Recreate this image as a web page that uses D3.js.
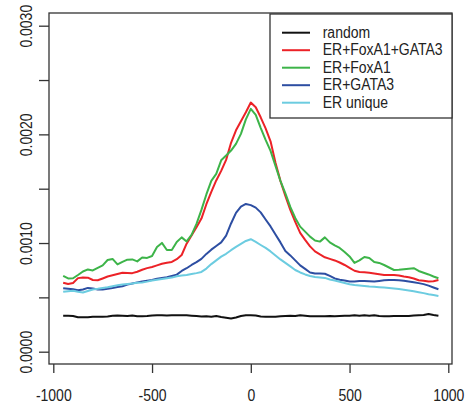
<!DOCTYPE html>
<html>
<head>
<meta charset="utf-8">
<script src="https://cdn.jsdelivr.net/npm/d3@7"></script>
<style>
  body { margin: 0; background: #fff; }
  svg { display: block; }
  text { font-family: "Liberation Sans", Arial, sans-serif; font-size: 14px; fill: #222; }
</style>
</head>
<body>
<div id="chart"></div>
<script>
// distance from peak centre (bp)
const positions = [-950, -925, -900, -875, -850, -825, -800, -775, -750, -725, -700, -675, -650, -625, -600,
  -575, -550, -525, -500, -475, -450, -425, -400, -375, -350, -325, -300, -275, -250, -225, -200,
  -175, -150, -125, -100, -75, -50, -25, 0, 25, 50, 75, 100, 125, 150, 175, 200, 225, 250, 275, 300,
  325, 350, 375, 400, 425, 450, 475, 500, 525, 550, 575, 600, 625, 650, 675, 700, 725, 750, 775, 800,
  825, 850, 875, 900, 925, 950];

// series values, in units of 1e-4
const randomVals = [3.31, 3.31, 3.28, 3.17, 3.17, 3.17, 3.22, 3.22, 3.22, 3.24, 3.30, 3.33, 3.31, 3.28, 3.33,
  3.26, 3.26, 3.28, 3.33, 3.35, 3.35, 3.33, 3.35, 3.35, 3.35, 3.35, 3.31, 3.28, 3.24, 3.26, 3.22,
  3.28, 3.19, 3.13, 3.06, 3.15, 3.28, 3.35, 3.35, 3.33, 3.24, 3.22, 3.22, 3.22, 3.26, 3.28, 3.31, 3.28, 3.35, 3.31, 3.26,
  3.26, 3.26, 3.26, 3.28, 3.26, 3.28, 3.31, 3.31, 3.35, 3.31, 3.35, 3.31, 3.35, 3.28, 3.26, 3.26, 3.28, 3.28, 3.28, 3.28,
  3.33, 3.35, 3.38, 3.47, 3.38, 3.31];

const erFoxGata = [6.35, 6.23, 6.33, 6.77, 6.83, 6.81, 6.60, 6.57, 6.74, 6.92, 7.03, 7.15, 7.26, 7.25, 7.23,
  7.36, 7.54, 7.69, 7.80, 7.94, 8.09, 8.19, 8.26, 8.51, 8.90, 9.94, 10.70, 11.45, 12.25, 13.57, 14.71,
  15.76, 16.64, 17.65, 19.22, 20.37, 21.20, 22.03, 22.93, 22.50, 21.57, 20.55, 19.36, 17.38, 15.72, 14.34, 13.05, 11.94, 10.93, 10.29, 9.69,
  9.23, 8.95, 8.69, 8.54, 8.40, 8.21, 7.98, 7.71, 7.45, 7.34, 7.31, 7.27, 7.20, 7.13, 7.06, 7.06, 7.06, 7.02, 6.92, 6.85,
  6.74, 6.58, 6.53, 6.46, 6.49, 6.60];

const erFox = [6.97, 6.74, 6.76, 7.06, 7.38, 7.57, 7.48, 7.71, 7.94, 8.44, 8.54, 8.03, 8.26, 8.47, 8.49,
  8.31, 8.67, 8.63, 8.81, 9.64, 10.01, 9.36, 9.36, 10.10, 10.52, 10.15, 10.75, 11.76, 13.05, 14.47, 15.72,
  16.36, 17.61, 18.05, 18.51, 19.13, 20.05, 21.38, 22.35, 21.80, 20.60, 19.49, 18.48, 17.10, 15.72, 14.57, 13.32, 12.31, 11.51, 11.05, 10.59,
  10.24, 10.13, 10.52, 10.06, 9.78, 9.55, 9.18, 8.77, 8.17, 8.40, 8.72, 8.63, 8.26, 8.17, 7.98, 7.75, 7.52, 7.54, 7.59, 7.63,
  7.68, 7.43, 7.27, 7.11, 6.92, 6.76];

const erGata = [5.84, 5.79, 5.75, 5.65, 5.73, 5.87, 5.82, 5.73, 5.73, 5.80, 5.87, 5.96, 6.02, 6.17, 6.28,
  6.38, 6.46, 6.54, 6.60, 6.71, 6.79, 6.86, 6.97, 7.09, 7.43, 7.68, 7.98, 8.24, 8.54, 9.00, 9.39,
  9.73, 10.06, 10.68, 11.80, 12.77, 13.35, 13.60, 13.49, 13.26, 12.82, 12.17, 11.53, 10.79, 10.06, 9.27, 8.86, 8.40, 7.94, 7.62, 7.29,
  7.20, 7.20, 7.17, 6.97, 6.74, 6.63, 6.56, 6.46, 6.46, 6.51, 6.51, 6.49, 6.46, 6.51, 6.57, 6.60, 6.60, 6.57, 6.53, 6.46,
  6.40, 6.31, 6.22, 6.08, 5.91, 5.75];

const erUnique = [5.52, 5.57, 5.61, 5.52, 5.45, 5.59, 5.73, 5.79, 5.87, 5.94, 6.03, 6.11, 6.18, 6.23, 6.27,
  6.34, 6.37, 6.45, 6.56, 6.63, 6.69, 6.76, 6.82, 6.95, 7.02, 7.06, 7.15, 7.23, 7.34, 7.65, 8.06,
  8.40, 8.75, 9.01, 9.34, 9.64, 9.92, 10.19, 10.35, 10.10, 9.82, 9.55, 9.23, 8.86, 8.49, 8.17, 7.85, 7.52, 7.29, 7.11, 6.97,
  6.88, 6.83, 6.79, 6.65, 6.56, 6.44, 6.33, 6.21, 6.14, 6.10, 6.05, 6.00, 5.98, 5.94, 5.90, 5.86, 5.81, 5.76, 5.70, 5.64,
  5.56, 5.48, 5.39, 5.29, 5.21, 5.13];

const seriesNames = ["random", "ER+FoxA1+GATA3", "ER+FoxA1", "ER+GATA3", "ER unique"];
const seriesColors = ["#111111", "#ec2227", "#3db449", "#2d4ea2", "#6ccce0"];
const xTicks = [-1000, -500, 0, 500, 1000];
const yTicks = [0, 0.0005, 0.001, 0.0015, 0.002, 0.0025, 0.003];
const yLabelled = [0, 0.001, 0.002, 0.003];
const UNIT = 1e-4;

const allSeries = [randomVals, erFoxGata, erFox, erGata, erUnique];

const width = 469, height = 406;
const box = { left: 49, right: 452, top: 13, bottom: 364 };
const stretch = 1.17; // glyphs in the reference are taller than Arial

const svg = d3.select("#chart").append("svg")
  .attr("width", width)
  .attr("height", height);

const x = d3.scaleLinear().domain([-1000, 1000]).range([53.3, 448.3]);
const y = d3.scaleLinear().domain([0, 0.003]).range([351.7, 25.7]);

// lines
const line = d3.line()
  .x((d, i) => x(positions[i]))
  .y(d => y(d * UNIT));

svg.selectAll("path.series")
  .data(allSeries)
  .enter()
  .append("path")
    .attr("class", "series")
    .attr("d", d => line(d))
    .attr("fill", "none")
    .attr("stroke", (d, i) => seriesColors[i])
    .attr("stroke-width", 2)
    .attr("stroke-linejoin", "round");

// plot frame
svg.append("rect")
  .attr("x", box.left)
  .attr("y", box.top)
  .attr("width", box.right - box.left)
  .attr("height", box.bottom - box.top)
  .attr("fill", "none")
  .attr("stroke", "#333")
  .attr("stroke-width", 1.3);

// x axis
const xAxis = svg.append("g")
  .attr("transform", `translate(0,${box.bottom})`)
  .call(d3.axisBottom(x).tickValues(xTicks).tickSize(9).tickFormat(d => String(d)));
xAxis.select(".domain").remove();
xAxis.selectAll(".tick line").attr("stroke", "#333").attr("stroke-width", 1.3);
xAxis.selectAll(".tick text")
  .attr("font-size", null).attr("font-family", null).attr("fill", "#222")
  .attr("y", 0).attr("dy", 0)
  .attr("transform", `translate(0,37) scale(1,${stretch})`);

// y axis
const yAxis = svg.append("g")
  .attr("transform", `translate(${box.left},0)`)
  .call(d3.axisLeft(y).tickValues(yTicks).tickSize(10)
    .tickFormat(d => yLabelled.some(v => Math.abs(v - d) < 1e-9) ? d3.format(".4f")(d) : ""));
yAxis.select(".domain").remove();
yAxis.selectAll(".tick line").attr("stroke", "#333").attr("stroke-width", 1.3);
yAxis.selectAll(".tick text")
  .attr("font-size", null).attr("font-family", null).attr("fill", "#222")
  .attr("x", 0).attr("dy", 0)
  .attr("text-anchor", "middle")
  .attr("transform", `translate(-17.3,0) rotate(-90) scale(1,${stretch})`);

// legend
const legend = svg.append("g");
legend.append("rect")
  .attr("x", 270).attr("y", 14)
  .attr("width", box.right - 270).attr("height", 104)
  .attr("fill", "#fff")
  .attr("stroke", "#333")
  .attr("stroke-width", 1.3);

const rows = legend.selectAll("g.row")
  .data(seriesNames)
  .enter()
  .append("g")
    .attr("class", "row")
    .attr("transform", (d, i) => `translate(0,${32.7 + i * 17.5})`);
rows.append("line")
  .attr("x1", 282).attr("x2", 310)
  .attr("stroke", (d, i) => seriesColors[i])
  .attr("stroke-width", 2);
rows.append("text")
  .attr("transform", `translate(322.7,5.2) scale(1,${stretch})`)
  .text(d => d);
</script>
</body>
</html>
